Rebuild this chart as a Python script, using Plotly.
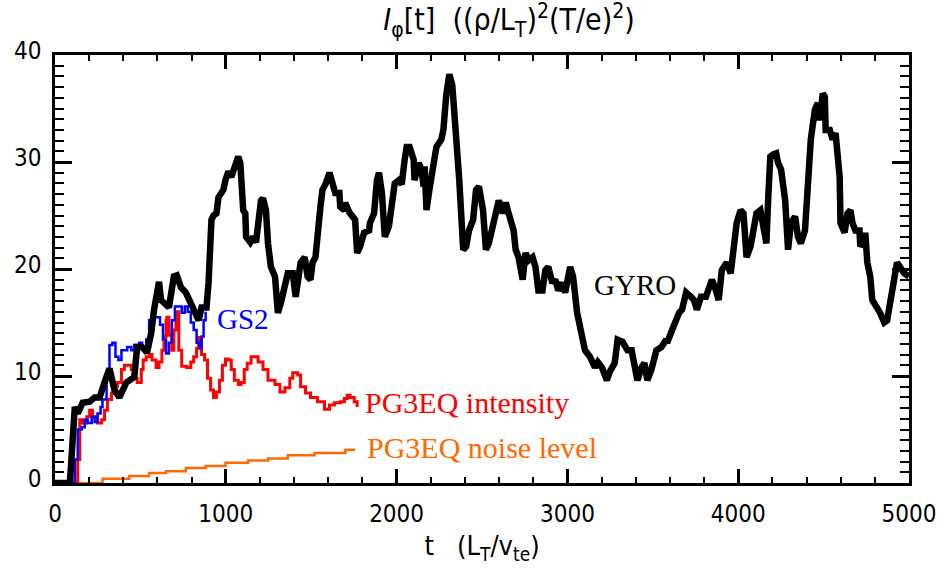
import plotly.graph_objects as go

# ---------------- data ----------------
gyro_t = [0, 87, 116, 133, 162, 203, 232, 261, 290, 319, 348, 377, 418, 464, 481, 510, 539, 563, 580, 597,
          609, 621, 638, 667, 696, 713, 737, 766, 795, 824, 841, 858, 887, 899, 911, 916, 928, 945, 957, 969,
          986, 998, 1015, 1032, 1056, 1073, 1085, 1102, 1114, 1119, 1143, 1160, 1177, 1189, 1201, 1206, 1218,
          1235, 1247, 1264, 1288, 1305, 1322, 1346, 1363, 1392, 1404, 1409, 1421, 1438, 1462, 1479, 1496,
          1508, 1525, 1537, 1554, 1566, 1583, 1607, 1624, 1641, 1665, 1670, 1694, 1699, 1723, 1740, 1757,
          1769, 1786, 1810, 1839, 1844, 1868, 1885, 1897, 1914, 1931, 1955, 1972, 1989, 2013, 2030, 2047,
          2059, 2076, 2100, 2105, 2129, 2146, 2158, 2164, 2175, 2192, 2216, 2233, 2262, 2274, 2291, 2309,
          2326, 2337, 2349, 2367, 2390, 2407, 2424, 2448, 2465, 2482, 2506, 2523, 2540, 2564, 2581, 2598,
          2622, 2639, 2656, 2668, 2685, 2697, 2714, 2738, 2755, 2772, 2796, 2813, 2830, 2854, 2871, 2888,
          2912, 2929, 2946, 2970, 2987, 3016, 3033, 3057, 3074, 3103, 3132, 3161, 3178, 3202, 3231, 3248,
          3277, 3294, 3323, 3352, 3376, 3393, 3410, 3434, 3451, 3468, 3492, 3521, 3550, 3579, 3584, 3613,
          3637, 3654, 3671, 3695, 3724, 3741, 3758, 3782, 3811, 3828, 3846, 3869, 3886, 3904, 3933, 3956,
          3973, 3991, 4014, 4031, 4049, 4072, 4089, 4107, 4130, 4147, 4165, 4176, 4188, 4205, 4222, 4234,
          4251, 4275, 4280, 4292, 4309, 4333, 4350, 4367, 4391, 4408, 4425, 4449, 4466, 4478, 4495, 4507,
          4512, 4536, 4553, 4570, 4594, 4599, 4623, 4640, 4657, 4669, 4686, 4710, 4715, 4739, 4744, 4756,
          4773, 4785, 4814, 4831, 4855, 4872, 4889, 4913, 4930, 4947, 4971, 5000]
gyro_v = [0.0, 0.0, 7.1, 6.5, 7.5, 7.6, 8.0, 8.0, 9.4, 10.7, 8.7, 8.0, 9.4, 9.9, 12.7, 12.7, 12.2, 14.0, 16.2, 18.0,
          18.8, 17.1, 16.8, 16.4, 19.3, 19.4, 18.3, 17.8, 16.8, 15.9, 15.2, 16.4, 16.4, 18.7, 21.8, 24.6, 25.0, 25.2, 26.7, 27.1,
          27.4, 28.3, 29.1, 28.6, 29.5, 30.5, 29.9, 25.5, 25.2, 23.0, 22.5, 23.0, 22.5, 24.0, 24.9, 26.4, 26.6,
          25.5, 22.4, 20.2, 19.3, 15.9, 16.8, 18.7, 19.6, 19.6, 18.3, 17.4, 18.7, 20.6, 21.1, 19.3, 19.0,
          20.6, 21.1, 24.0, 25.8, 27.4, 27.9, 29.0, 27.9, 27.1, 27.1, 25.8, 25.5, 26.2, 25.3, 24.9, 24.6,
          21.5, 22.1, 23.4, 23.6, 24.3, 25.2, 28.3, 29.0, 27.1, 23.0, 24.0, 25.8, 28.0, 28.3, 27.9, 30.2,
          31.4, 31.4, 30.2, 28.3, 29.9, 29.3, 27.7, 29.6, 25.5, 27.4, 29.9, 31.4, 32.1, 33.0, 36.3, 38.2,
          37.2, 34.9, 32.1, 28.3, 21.8, 22.1, 23.6, 24.6, 27.4, 27.7, 25.5, 21.8, 22.4, 24.3, 25.5, 26.4,
          25.2, 26.2, 25.2, 24.3, 23.6, 21.8, 21.1, 19.0, 21.5, 20.8, 21.1, 20.2, 18.0, 18.0, 19.9, 20.2,
          18.7, 19.0, 18.0, 18.7, 17.8, 20.2, 19.3, 15.9, 14.6, 12.4, 11.8, 10.8, 11.3, 10.8, 9.6, 10.4,
          11.2, 13.4, 13.2, 12.4, 12.4, 10.6, 9.6, 10.8, 11.2, 9.6, 10.6, 12.4, 12.7, 13.4, 13.1, 14.3,
          15.5, 15.9, 16.2, 17.8, 17.4, 17.1, 16.2, 17.4, 17.4, 18.0, 19.0, 18.0, 17.1, 19.9, 20.6, 19.6,
          22.4, 24.3, 25.5, 25.2, 21.1, 22.1, 23.6, 25.2, 25.5, 24.0, 22.4, 26.7, 30.5, 30.7, 30.8, 29.9,
          29.3, 26.4, 24.0, 21.8, 24.3, 24.9, 23.0, 22.4, 23.6, 29.0, 32.1, 34.9, 35.5, 33.9, 36.4, 36.1,
          33.0, 33.0, 32.1, 32.7, 28.6, 24.3, 23.4, 25.2, 25.5, 24.3, 23.6, 23.6, 22.1, 22.7, 23.4, 20.6,
          19.3, 17.1, 16.4, 15.9, 15.0, 15.2, 16.8, 18.7, 20.6, 20.2, 19.6, 19.3]

gs2_t = [0, 99, 116, 133, 157, 174, 191, 215, 232, 249, 267, 278, 302, 319, 336, 354, 371, 389, 423, 447,
         464, 493, 510, 534, 551, 580, 597, 615, 632, 650, 667, 684, 702, 725, 742, 760, 777, 795, 812, 829,
         847, 858, 870, 882]
gs2_v = [0.0, 0.0, 2.2, 5.0, 5.2, 5.9, 5.6, 6.2, 5.7, 6.5, 7.1, 7.8, 10.1, 12.9, 13.1, 11.8, 11.5, 12.4, 12.7, 12.4,
         12.9, 13.1, 12.6, 13.4, 15.2, 15.5, 15.5, 14.8, 13.4, 12.1, 13.1, 15.2, 16.5, 16.5, 15.9, 16.5, 16.0, 15.0, 14.3, 13.1,
         12.6, 13.7, 15.2, 16.0]

pg3_t = [0, 116, 133, 145, 162, 186, 203, 220, 249, 273, 290, 307, 331, 348, 365, 389, 406, 423, 447, 464,
         481, 505, 516, 534, 551, 568, 592, 609, 626, 638, 650, 655, 667, 684, 696, 708, 713, 725, 742, 771,
         795, 812, 829, 841, 858, 876, 893, 911, 928, 945, 963, 980, 998, 1015, 1032, 1050, 1073, 1090, 1108,
         1125, 1148, 1172, 1189, 1218, 1247, 1288, 1317, 1346, 1375, 1392, 1421, 1438, 1467, 1496, 1537,
         1578, 1607, 1636, 1670, 1694, 1711, 1728, 1752, 1769]
pg3_v = [0.0, 0.1, 2.2, 5.9, 5.6, 6.2, 6.8, 6.2, 5.6, 5.9, 6.8, 7.8, 8.4, 9.0, 9.4, 10.6, 11.0, 11.0, 10.6, 9.8,
         9.4, 10.6, 11.5, 11.8, 12.0, 11.5, 10.8, 11.3, 12.4, 13.7, 15.2, 15.5, 13.8, 12.4, 14.3, 16.0, 16.0, 12.4, 10.9, 10.8,
         11.3, 11.8, 12.6, 13.6, 12.0, 11.5, 9.8, 8.7, 8.0, 8.5, 9.6, 11.0, 11.6, 11.5, 10.6, 9.6, 9.2, 9.4, 10.6,
         11.2, 11.8, 11.8, 11.3, 10.6, 9.6, 9.2, 8.5, 8.9, 9.8, 10.3, 10.1, 9.0, 8.4, 8.0, 7.6,
         6.9, 7.3, 7.5, 7.6, 7.9, 8.2, 8.0, 7.6, 7.1]

noise_t = [0, 278, 435, 551, 650, 766, 882, 998, 1131, 1247, 1363, 1520, 1700, 1757]
noise_v = [0.0, 0.4, 0.65, 0.93, 1.1, 1.4, 1.6, 1.9, 2.1, 2.3, 2.6, 2.8, 3.1, 3.1]

x_ticks = [0, 1000, 2000, 3000, 4000, 5000]
y_ticks = [0, 10, 20, 30, 40]

labels = ["GS2", "GYRO", "PG3EQ intensity", "PG3EQ noise level"]
label_t = [934, 3144, 1804, 1815]
label_v = [15.3, 18.5, 7.5, 3.3]

# ---------------- figure ----------------
BLACK = "#000000"
BLUE = "#0000ff"
RED = "#ff0000"
ORANGE = "#ff6a00"

fig = go.Figure()
fig.add_trace(go.Scatter(x=noise_t, y=noise_v, mode="lines", line=dict(color=ORANGE, width=2.5, shape="hv"),
                         showlegend=False, hoverinfo="skip"))
fig.add_trace(go.Scatter(x=pg3_t, y=pg3_v, mode="lines", line=dict(color=RED, width=3, shape="hv"),
                         showlegend=False, hoverinfo="skip"))
fig.add_trace(go.Scatter(x=gs2_t, y=gs2_v, mode="lines", line=dict(color=BLUE, width=2.5, shape="hv"),
                         showlegend=False, hoverinfo="skip"))
fig.add_trace(go.Scatter(x=gyro_t, y=gyro_v, mode="lines", line=dict(color=BLACK, width=6.5),
                         showlegend=False, hoverinfo="skip"))

label_colors = [BLUE, BLACK, RED, ORANGE]
label_sizes = [29, 29, 30, 30]
for txt, tt, vv, cc, ss in zip(labels, label_t, label_v, label_colors, label_sizes):
    fig.add_annotation(x=tt, y=vv, text=txt, showarrow=False, xanchor="left", yanchor="middle",
                       font=dict(family="Liberation Serif, Times New Roman, serif", size=ss, color=cc))

SANS = "Liberation Sans Narrow, DejaVu Sans Condensed, Liberation Sans, sans-serif"
tickfont = dict(family=SANS, size=24, color="black")

fig.update_xaxes(range=[0, 5000], tickvals=x_ticks, ticktext=[str(v) for v in x_ticks],
                 ticks="inside", ticklen=14, tickwidth=2.5, tickcolor="black",
                 minor=dict(ticks="inside", dtick=200, ticklen=6, tickwidth=2, tickcolor="black"),
                 showline=True, linewidth=2.5, linecolor="black", mirror="ticks",
                 showgrid=False, zeroline=False, tickfont=tickfont, ticklabelstandoff=7,
                 title=dict(text="t   (L<sub>T</sub>/v<sub>te</sub>)", font=dict(family=SANS, size=27, color="black"),
                            standoff=10))
fig.update_yaxes(range=[0, 40], tickvals=y_ticks, ticktext=[str(v) for v in y_ticks],
                 ticks="inside", ticklen=17, tickwidth=2.5, tickcolor="black",
                 minor=dict(ticks="inside", dtick=1, ticklen=9, tickwidth=2, tickcolor="black"),
                 showline=True, linewidth=2.5, linecolor="black", mirror="ticks",
                 showgrid=False, zeroline=False, tickfont=tickfont, ticklabelstandoff=6, ticklabelshift=-4)

fig.update_layout(
    width=948, height=571,
    margin=dict(l=55, r=28, t=55, b=88),
    paper_bgcolor="white", plot_bgcolor="white",
    title=dict(text="<i>I</i><sub>φ</sub>[t]  ((ρ/L<sub>T</sub>)<sup>2</sup>(T/e)<sup>2</sup>)",
               x=0.537, xanchor="center", y=0.965, yanchor="middle",
               font=dict(family=SANS, size=30, color="black")),
)

fig.write_html("out.html")
